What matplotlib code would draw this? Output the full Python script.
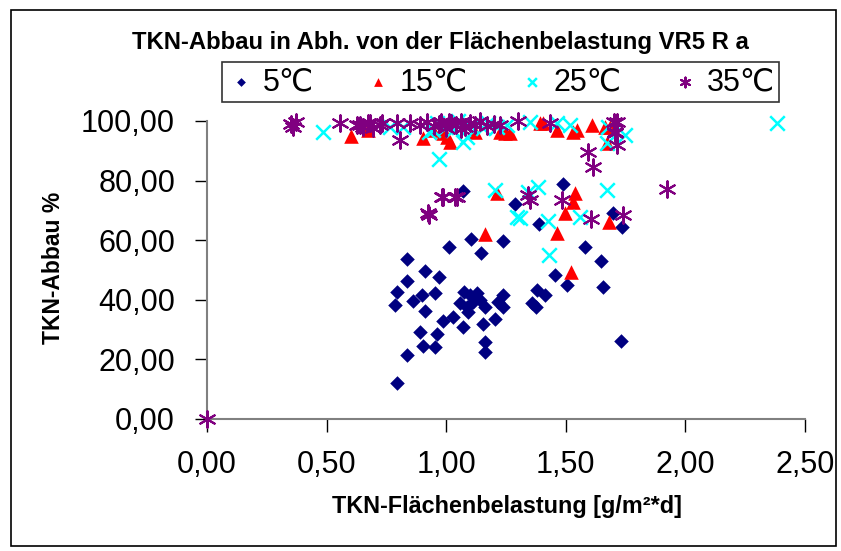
import matplotlib
matplotlib.use("Agg")
import matplotlib.pyplot as plt
from matplotlib.patches import Rectangle
from matplotlib.ticker import FuncFormatter

plt.rcParams['font.family'] = ['Liberation Sans', 'DejaVu Sans']

title = "TKN-Abbau in Abh. von der Flächenbelastung VR5 R a"
xlabel = "TKN-Flächenbelastung [g/m²*d]"
ylabel = "TKN-Abbau %"
series_names = ["5℃", "15℃", "25℃", "35℃"]

x5 = [1.072, 1.288, 1.388, 1.102, 1.236, 1.012, 1.145, 0.836, 0.911, 0.835, 0.970, 0.794,
      0.954, 0.900, 0.786, 0.863, 0.911, 1.076, 1.100, 1.127, 1.058, 1.086, 1.113, 1.141,
      1.093, 1.162, 1.236, 1.218, 1.239, 1.204, 1.155, 1.072, 1.027, 0.988, 0.890, 0.960,
      0.905, 0.954, 1.162, 1.162, 0.836, 0.794, 1.378, 1.413, 1.357, 1.374, 1.490, 1.699,
      1.733, 1.580, 1.647, 1.455, 1.504, 1.654, 1.731]
y5 = [76.6, 72.0, 65.3, 60.4, 59.8, 57.7, 55.8, 53.8, 49.8, 46.4, 47.7, 42.5,
      42.4, 41.6, 38.4, 39.7, 36.3, 42.7, 41.6, 42.2, 38.8, 37.7, 39.4, 39.9,
      36.0, 37.7, 41.6, 39.4, 37.7, 33.6, 31.8, 31.0, 34.3, 32.9, 29.1, 28.5,
      24.5, 24.1, 25.9, 22.6, 21.5, 12.2, 43.3, 41.6, 38.8, 37.5, 78.8, 69.0,
      64.5, 57.6, 53.1, 48.3, 45.0, 44.4, 26.2]

x15 = [1.211, 1.162, 1.538, 1.532, 1.497, 1.682, 1.465, 1.522, 0.904, 1.016, 1.002,
       1.608, 1.546, 1.462, 1.392, 1.267, 1.225, 1.120, 0.988, 1.671, 1.685, 0.602,
       0.675, 1.532, 1.664, 1.406, 1.246, 0.946]
y15 = [75.7, 62.1, 75.7, 72.9, 69.0, 66.2, 62.3, 49.4, 94.2, 93.1, 94.7,
       98.7, 97.0, 97.0, 99.2, 95.9, 96.4, 96.4, 95.9, 92.5, 98.1, 95.0,
       97.0, 96.4, 98.1, 99.2, 95.9, 97.0]

x25 = [0.486, 0.971, 1.072, 1.204, 1.385, 1.671, 1.671, 0.820, 0.946, 1.051, 1.100,
       1.155, 1.253, 1.350, 1.518, 1.678, 2.382, 1.748, 1.343, 1.295, 1.309, 1.427,
       1.559, 1.431, 0.960, 1.030, 1.086, 1.176, 1.211, 0.765, 0.930, 1.462, 1.000]
y25 = [96.4, 87.1, 93.1, 76.8, 77.9, 76.8, 92.5, 98.1, 97.0, 99.9, 98.7,
       97.5, 98.7, 99.8, 98.7, 98.1, 99.4, 95.3, 76.3, 67.9, 67.3, 66.4,
       67.9, 55.0, 99.2, 97.0, 94.7, 99.2, 98.1, 98.1, 96.4, 99.2, 98.0]

x35 = [0.0, 0.352, 0.361, 0.372, 0.556, 0.640, 0.674, 0.695, 0.807, 0.793, 0.730,
       0.626, 0.654, 0.681, 0.723, 0.849, 0.890, 0.920, 0.950, 0.980, 1.000, 1.020,
       1.040, 1.060, 1.080, 1.100, 1.120, 1.140, 1.170, 1.200, 1.225, 1.300, 1.434,
       1.700, 1.594, 1.612, 0.981, 1.037, 0.925, 1.343, 1.350, 1.483, 1.604, 1.741,
       1.922, 1.713, 1.706, 1.713, 1.706, 0.930, 0.988, 1.044, 0.970, 1.010, 1.060]
y35 = [0.0, 99.0, 98.0, 99.5, 99.2, 98.7, 99.2, 97.5, 93.6, 99.2, 99.2,
       98.7, 98.1, 99.2, 98.7, 99.2, 98.7, 99.5, 98.2, 99.8, 97.8, 99.2,
       98.5, 99.7, 98.0, 99.3, 98.6, 99.9, 98.3, 99.1, 98.7, 100.0, 99.2,
       99.8, 89.7, 84.7, 74.6, 74.6, 69.0, 75.2, 73.5, 73.5, 67.0, 68.5,
       77.1, 99.8, 95.9, 91.9, 96.4, 68.5, 74.6, 74.6, 98.9, 99.6, 97.3]

xticks = [0.0, 0.5, 1.0, 1.5, 2.0, 2.5]
yticks = [0, 20, 40, 60, 80, 100]

fig = plt.figure(figsize=(8.41, 5.51), dpi=100)
fig.patches.append(Rectangle((11 / 841, 1 - 546 / 551), (836 - 11) / 841, (546 - 10) / 551,
                             transform=fig.transFigure, fill=False, edgecolor='black', linewidth=1.2))

ax = fig.add_axes([207 / 841, 1 - 419 / 551, (805 - 207) / 841, (419 - 121) / 551])

h5 = ax.scatter(x5, y5, marker='D', s=55, color='#000080', clip_on=False, zorder=3, linewidths=0)
h15 = ax.scatter(x15, y15, marker='^', s=110, color='#ff0000', clip_on=False, zorder=3, linewidths=0)
h25 = ax.scatter(x25, y25, marker='x', s=110, color='#00ffff', clip_on=False, zorder=3, linewidths=1.8)
h35 = ax.scatter(x35, y35, marker=(6, 2, 0), s=140, color='#800080', clip_on=False, zorder=3, linewidths=1.5)

ax.set_xlim(0, 2.5)
ax.set_ylim(0, 100)
ax.set_xticks(xticks)
ax.set_yticks(yticks)
fmt = FuncFormatter(lambda v, p: f"{v:.2f}".replace('.', ','))
ax.xaxis.set_major_formatter(fmt)
ax.yaxis.set_major_formatter(fmt)
ax.tick_params(axis='both', direction='out', length=9, width=1, labelsize=22, color='black')
ax.tick_params(axis='x', pad=13)
ax.tick_params(axis='y', pad=14)
for s in ['top', 'right']:
    ax.spines[s].set_visible(False)
for s in ['left', 'bottom']:
    ax.spines[s].set_color('#808080')
    ax.spines[s].set_linewidth(1.5)

fig.text(507 / 841, 1 - 507 / 551, xlabel, fontsize=16.8, fontweight='bold', ha='center', va='center')
fig.text(54 / 841, 1 - 268 / 551, ylabel, fontsize=16.5, fontweight='bold', ha='center', va='center',
         rotation=90)
fig.text(440 / 841, 1 - 42 / 551, title, fontsize=17.2, fontweight='bold', ha='center', va='center')

leg = fig.legend([h5, h15, h25, h35], series_names, loc='center', ncol=4,
                 bbox_to_anchor=((225 + 776) / 2 / 841, 1 - 82 / 551),
                 fontsize=22, frameon=True, fancybox=False, edgecolor='black',
                 markerscale=0.6, handletextpad=0.2, columnspacing=1.6, borderpad=0.15,
                 handlelength=1.0)
leg.get_frame().set_linewidth(1.2)

fig.savefig("out.png", dpi=100)
